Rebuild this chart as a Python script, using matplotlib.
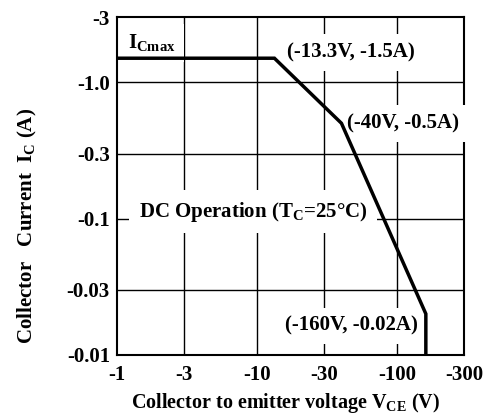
import matplotlib
matplotlib.use('Agg')
import matplotlib.pyplot as plt

plt.rcParams['font.family'] = ['Liberation Serif', 'DejaVu Serif']
plt.rcParams['font.weight'] = 'bold'
plt.rcParams['mathtext.fontset'] = 'custom'
plt.rcParams['mathtext.rm'] = 'Liberation Serif:bold'
plt.rcParams['mathtext.it'] = 'Liberation Serif:bold'
plt.rcParams['mathtext.bf'] = 'Liberation Serif:bold'

# safe operating area corners (magnitudes)
vce = [1, 13.3, 40, 160, 160]
ic = [1.5, 1.5, 0.5, 0.02, 0.01]

xticks = [1, 3, 10, 30, 100, 300]
xlabels = ['-1', '-3', '-10', '-30', '-100', '-300']
yticks = [0.01, 0.03, 0.1, 0.3, 1.0, 3]
ylabels = ['-0.01', '-0.03', '-0.1', '-0.3', '-1.0', '-3']

fig = plt.figure(figsize=(4.87, 4.19), dpi=100)
ax = fig.add_axes([0.240, 0.153, 0.713, 0.806])
ax.set_xscale('log')
ax.set_yscale('log')
ax.set_xlim(1, 300)
ax.set_ylim(0.01, 3)

ax.set_xticks(xticks)
ax.set_xticklabels(xlabels)
ax.set_yticks(yticks)
ax.set_yticklabels(ylabels)
ax.minorticks_off()
ax.tick_params(length=0, labelsize=15)
ax.tick_params(axis='y', pad=5)
ax.tick_params(axis='x', pad=7)
for s in ax.spines.values():
    s.set_linewidth(1.5)

# grid
for x in xticks[1:-1]:
    ax.axvline(x, color='black', lw=1.0, zorder=1)
for y in yticks[1:-1]:
    ax.axhline(y, color='black', lw=1.0, zorder=1)

ax.plot(vce, ic, color='black', lw=2.5, zorder=5, solid_joinstyle='miter')

box = dict(boxstyle='square,pad=0.4', facecolor='white', edgecolor='none')
ax.text(1.2, 1.95, r'I$_\mathrm{Cmax}$', fontsize=15, va='center', ha='left', bbox=box, zorder=4)
ax.text(16.4, 1.66, '(-13.3V, -1.5A)', fontsize=15, va='center', ha='left', bbox=box, zorder=4)
ax.text(43.5, 0.50, '(-40V, -0.5A)', fontsize=15, va='center', ha='left', bbox=box, zorder=4)
ax.text(1.43, 0.112, r'DC Operation (T$_\mathrm{C}$=25°C)', fontsize=15, va='center', ha='left',
        bbox=dict(boxstyle='square,pad=0.45', facecolor='white', edgecolor='none'), zorder=4)
ax.text(15.8, 0.0163, '(-160V, -0.02A)', fontsize=15, va='center', ha='left', bbox=box, zorder=4)

fig.text(286 / 487, 1 - 403 / 419, r'Collector to emitter voltage V$_\mathrm{CE}$ (V)',
         fontsize=14.5, ha='center', va='center')
fig.text(27 / 487, 1 - 226 / 419, r'Collector   Current  I$_\mathrm{C}$ (A)',
         fontsize=15, ha='center', va='center', rotation=90)

fig.savefig('out.png', dpi=100)
